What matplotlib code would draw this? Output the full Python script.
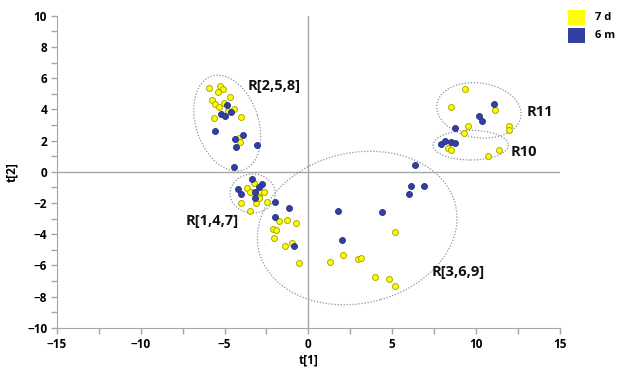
import matplotlib
matplotlib.use("Agg")
import matplotlib.pyplot as plt
from matplotlib.patches import Ellipse
from matplotlib.ticker import MultipleLocator

plt.rcParams['font.family'] = ['Open Sans', 'DejaVu Sans']

# score values (t[1], t[2])
d7_t1 = [-5.90, -5.27, -5.11, -5.39, -4.67, -5.77, -5.57, -5.01, -5.31, -4.81, -4.43, -4.01, -5.65, -4.11, -4.07,
         -3.22, -3.68, -3.44, -2.90, -2.67, -2.96, -2.46, -4.01, -3.12, -3.46, -3.49, -2.94,
         -1.75, -1.27, -0.72, -2.13, -1.93, -2.05, -1.41, -1.00, -0.55,
         5.15, 1.27, 2.05, 2.96, 3.14, 3.98, 4.83, 5.19,
         9.32, 8.53, 11.15, 9.52, 9.26, 11.96, 11.99, 8.31, 8.53, 10.71, 11.35]
d7_t2 = [5.40, 5.53, 5.30, 5.13, 4.81, 4.62, 4.38, 4.40, 4.15, 3.93, 4.06, 3.51, 3.42, 2.18, 1.94,
         -0.73, -1.03, -1.32, -1.32, -1.32, -1.58, -1.90, -1.97, -2.01, -2.48, -1.26, -1.69,
         -3.14, -3.08, -3.27, -3.65, -3.74, -4.25, -4.72, -4.53, -5.81,
         -3.87, -5.75, -5.36, -5.60, -5.49, -6.77, -6.84, -7.31,
         5.30, 4.15, 3.95, 2.91, 2.52, 2.91, 2.69, 1.56, 1.41, 1.03, 1.37]

m6_t1 = [-4.85, -5.21, -4.95, -4.63, -5.57, -4.35, -3.88, -4.29, -3.08, -4.43,
         -3.34, -2.76, -2.96, -4.17, -4.04, -3.16, -3.16, -2.01,
         -1.97, -1.17, -0.88, 6.34, 6.12, 6.90, 5.98, 1.75, 4.41, 1.99,
         11.07, 10.20, 10.34, 8.73, 7.93, 8.15, 8.53, 8.77]
m6_t2 = [4.29, 3.70, 3.61, 3.85, 2.65, 2.12, 2.39, 1.58, 1.73, 0.30,
         -0.43, -0.79, -0.94, -1.13, -1.43, -1.26, -1.69, -1.92,
         -2.91, -2.31, -4.72, 0.43, -0.88, -0.88, -1.45, -2.50, -2.56, -4.38,
         4.36, 3.57, 3.29, 2.82, 1.79, 1.99, 1.92, 1.86]

region_names = ['R[2,5,8]', 'R[1,4,7]', 'R[3,6,9]', 'R11', 'R10']

yellow = '#FFFF00'
blue = '#3240A2'
grey = '#A6A6A6'

fig = plt.figure(figsize=(6.18, 3.68), dpi=100)
ax = fig.add_axes([0.092, 0.109, 0.814, 0.848])

# dotted group outlines: (centre, width, height, angle)
outlines = [((-4.84, 3.12), 6.3, 3.74, 106),
            ((-3.32, -1.39), 2.7, 2.5, 0),
            ((2.91, -3.60), 12.1, 9.6, 17),
            ((10.17, 3.94), 5.07, 3.5, -10),
            ((9.68, 1.71), 4.5, 1.9, 0)]
for (c, w, h, a) in outlines:
    ax.add_patch(Ellipse(c, w, h, angle=a, fill=False, edgecolor='#8A94A6',
                         linestyle=(0, (1, 1.4)), linewidth=0.9, zorder=1))

label_pos = [(-2.05, 5.5), (-5.71, -3.14), (8.95, -6.45), (13.8, 3.81), (12.85, 1.28)]
for name, (lx, ly) in zip(region_names, label_pos):
    ax.text(lx, ly, name, fontsize=10.5, fontweight='bold', ha='center', va='center', color='#111111')

ax.axhline(0, color=grey, linewidth=1, zorder=0)
ax.axvline(0, color=grey, linewidth=1, zorder=0)

ax.scatter(d7_t1, d7_t2, s=18, c=yellow, edgecolors='#A8A800', linewidths=0.7, zorder=3)
ax.scatter(m6_t1, m6_t2, s=18, c=blue, edgecolors='#28338A', linewidths=0.7, zorder=3)

ax.set_xlim(-15, 15)
ax.set_ylim(-10, 10)
ax.xaxis.set_major_locator(MultipleLocator(5))
ax.xaxis.set_minor_locator(MultipleLocator(2.5))
ax.yaxis.set_major_locator(MultipleLocator(2))
ax.yaxis.set_minor_locator(MultipleLocator(1))
for s in ['top', 'right']:
    ax.spines[s].set_visible(False)
for s in ['left', 'bottom']:
    ax.spines[s].set_color(grey)
ax.tick_params(which='both', direction='out', color=grey, length=4, width=1)
ax.tick_params(which='major', labelsize=8.5, pad=3)
for lbl in ax.get_xticklabels() + ax.get_yticklabels():
    lbl.set_fontweight('bold')

ax.set_xlabel('t[1]', fontsize=8.5, fontweight='bold', labelpad=2)
ax.set_ylabel('t[2]', fontsize=8.5, fontweight='bold', labelpad=6)

# legend boxes at top right
fig.patches.append(plt.Rectangle((568 / 618, 1 - 25 / 368), 17 / 618, 15 / 368,
                                 transform=fig.transFigure, facecolor=yellow, edgecolor='none'))
fig.patches.append(plt.Rectangle((568 / 618, 1 - 43 / 368), 17 / 618, 15 / 368,
                                 transform=fig.transFigure, facecolor=blue, edgecolor='none'))
fig.text(595 / 618, 1 - 17 / 368, '7 d', fontsize=8, fontweight='bold', va='center')
fig.text(595 / 618, 1 - 35 / 368, '6 m', fontsize=8, fontweight='bold', va='center')

fig.savefig('out.png', dpi=100)
